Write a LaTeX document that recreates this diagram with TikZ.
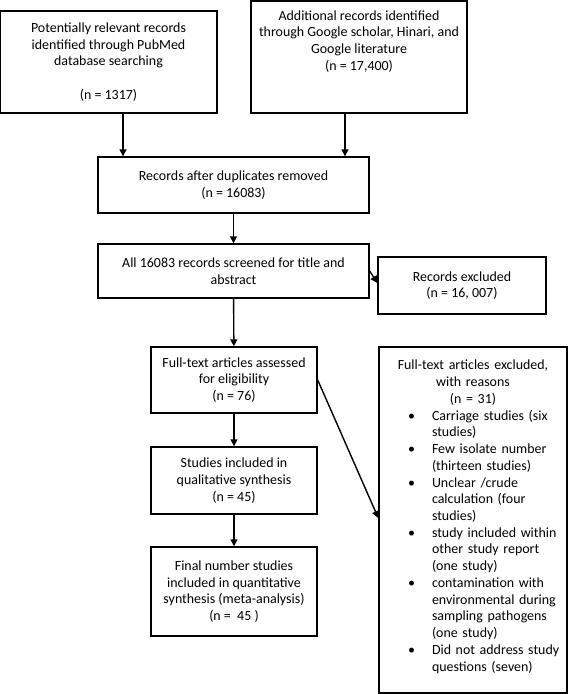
\documentclass[tikz,border=0pt]{standalone}
\usepackage{fontspec}
\setmainfont{Carlito}
\usepackage{enumitem}
\usetikzlibrary{arrows.meta}
\begin{document}
\begin{tikzpicture}[x=1bp, y=-1bp,
  box/.style={draw, line width=1.4bp, align=center, inner sep=4bp,
    font=\fontsize{14}{16.8}\selectfont},
  arr/.style={line width=1.4bp, -{Triangle[length=7bp, width=7bp]}}]
\useasboundingbox (0,0) rectangle (568,694);
% identification
\node[box, minimum width=217bp, minimum height=102bp] (pub) at (108.5,62)
  {Potentially relevant records\\identified through PubMed\\database searching\\[16.8bp](n = 1317)};
\node[box, minimum width=216bp, minimum height=112bp] (add) at (359,57) {};
\node[align=center, anchor=north, font=\fontsize{14}{16.8}\selectfont] (addtxt) at (359,7)
  {Additional records identified\\through Google scholar, Hinari, and\\Google literature\\(n = 17,400)};
% screening
\node[box, minimum width=271bp, minimum height=56bp] (dup) at (233.5,185)
  {Records after duplicates removed\\(n = 16083)};
\node[box, minimum width=271bp, minimum height=54bp] (scr) at (233.5,271)
  {All 16083 records screened for title and\\abstract};
\node[box, minimum width=168bp, minimum height=57bp] (excl) at (462,285.5)
  {Records excluded\\(n = 16, 007)};
% eligibility
\node[box, minimum width=166bp, minimum height=66bp] (ft) at (234,380)
  {Full-text articles assessed\\for eligibility\\(n = 76)};
\node[box, minimum width=166bp, minimum height=67bp] (qual) at (234,480.5)
  {Studies included in\\qualitative synthesis\\(n = 45)};
\node[box, minimum width=166bp, minimum height=89bp] (quant) at (234,591.5)
  {Final number studies\\included in quantitative\\synthesis (meta-analysis)\\(n =~ 45 )};
\node[box, minimum width=188bp, minimum height=346bp] (ftex) at (473,520) {};
\node[anchor=north, text width=176bp, inner sep=0bp, font=\fontsize{14}{16.8}\selectfont] (ftextxt) at (473,360)
  {{\centering Full-text articles excluded,\\with reasons\\(n = 31)\par}
   \begin{itemize}[label=\textbullet, leftmargin=47bp, labelsep=17bp, topsep=0pt, itemsep=0pt, parsep=0pt, partopsep=0pt]
   \item Carriage studies (six\newline studies)
   \item Few isolate number\newline (thirteen studies)
   \item Unclear /crude\newline calculation (four\newline studies)
   \item study included within\newline other study report\newline (one study)
   \item contamination with\newline environmental during\newline sampling pathogens\newline (one study)
   \item Did not address study\newline questions (seven)
   \end{itemize}};
% arrows
\draw[arr] ([xshift=14.5bp]pub.south) -- ([xshift=14.5bp]pub.south |- dup.north);
\draw[arr] ([xshift=-14bp]add.south) -- ([xshift=-14bp]add.south |- dup.north);
\draw[arr] (dup) -- (scr);
\draw[arr] (scr.east) -- ([yshift=2.5bp]excl.west);
\draw[arr] (scr) -- (ft);
\draw[arr] (ft) -- (qual);
\draw[arr] (qual) -- (quant);
\draw[arr] (ft.east) -- ([yshift=2bp]ftex.west);
\end{tikzpicture}
\end{document}
